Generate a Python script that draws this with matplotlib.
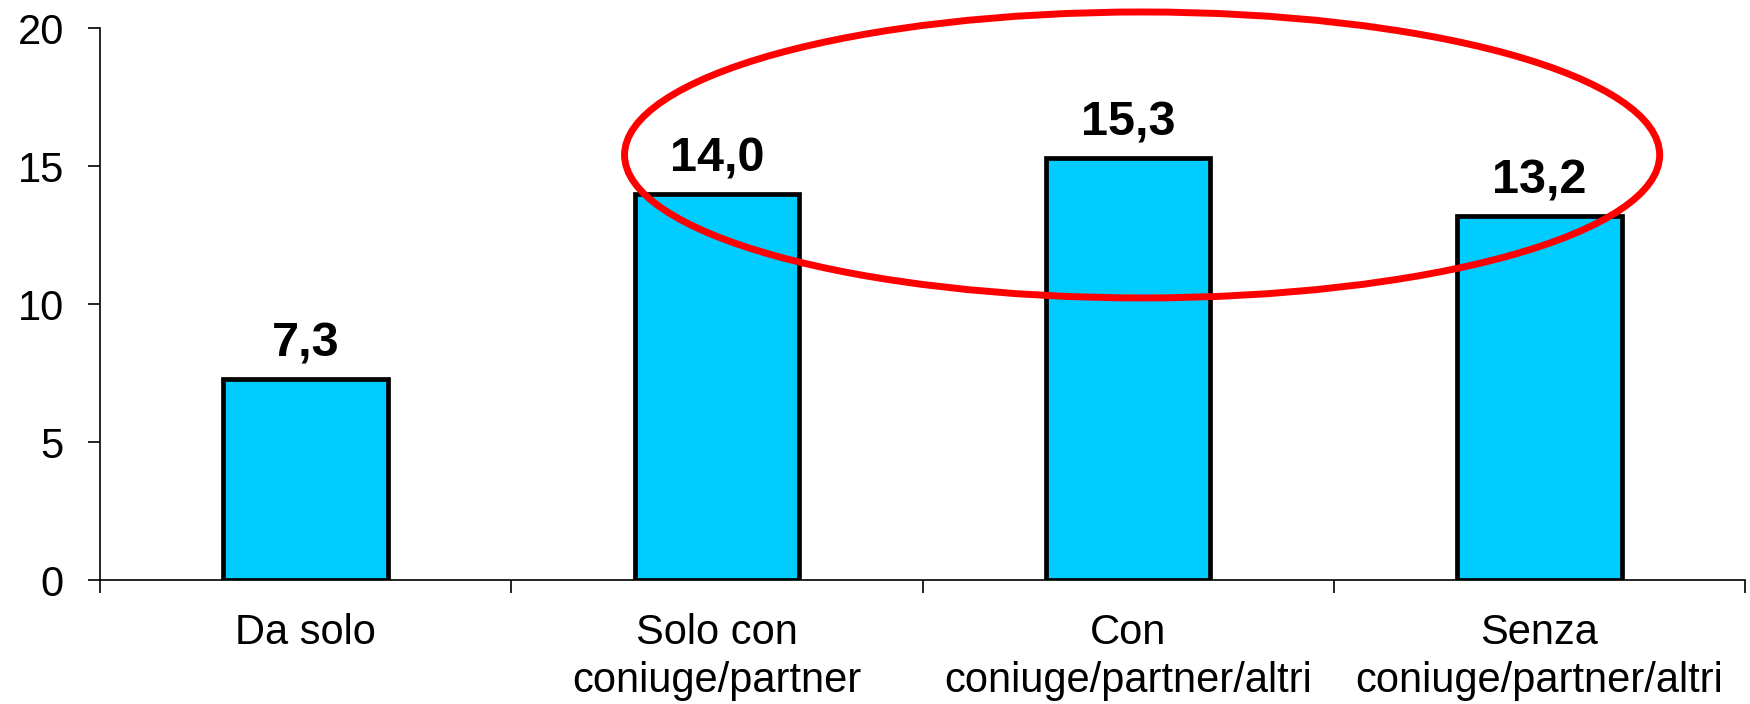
import matplotlib
matplotlib.use("Agg")
import matplotlib.pyplot as plt
from matplotlib.patches import Ellipse

plt.rcParams['font.family'] = ['Liberation Sans', 'DejaVu Sans']

categories = ["Da solo", "Solo con\nconiuge/partner", "Con\nconiuge/partner/altri", "Senza\nconiuge/partner/altri"]
values = [7.3, 14.0, 15.3, 13.2]
value_labels = ["7,3", "14,0", "15,3", "13,2"]
yticks = [0, 5, 10, 15, 20]

fig = plt.figure(figsize=(17.5, 7.04), dpi=100)
ax = fig.add_axes([100/1750, 1-580/704, 1645/1750, 552/704])

x = list(range(len(categories)))
ax.bar(x, values, width=0.40, color="#00CCFF", edgecolor="black", linewidth=3.4, zorder=2)
for xi, v, lab in zip(x, values, value_labels):
    ax.annotate(lab, (xi, v), xytext=(0, 16), textcoords="offset points",
                ha="center", va="baseline", fontsize=35, fontweight="bold")

ax.set_xlim(-0.5, 3.5)
ax.set_ylim(0, 20)
ax.set_yticks(yticks)
ax.set_yticklabels([str(t) for t in yticks], fontsize=30)
ax.set_xticks([i - 0.5 for i in range(len(categories) + 1)])
ax.set_xticklabels([])
ax.set_xticks(x, minor=True)
ax.set_xticklabels(categories, minor=True, fontsize=30, linespacing=1.25)
ax.tick_params(axis="x", which="minor", length=0, pad=24)
ax.tick_params(axis="x", which="major", length=9, width=1.2, direction="out")
ax.tick_params(axis="y", length=9, width=1.2, direction="out", pad=17)
for s in ["top", "right"]:
    ax.spines[s].set_visible(False)
for s in ["left", "bottom"]:
    ax.spines[s].set_linewidth(1.2)

# red ellipse highlight
ell = Ellipse((2.034, 15.4), 2.517, 10.36, fill=False, edgecolor="#FF0000",
              linewidth=5, zorder=5, clip_on=False)
ax.add_patch(ell)

fig.savefig("out.png", dpi=100)
